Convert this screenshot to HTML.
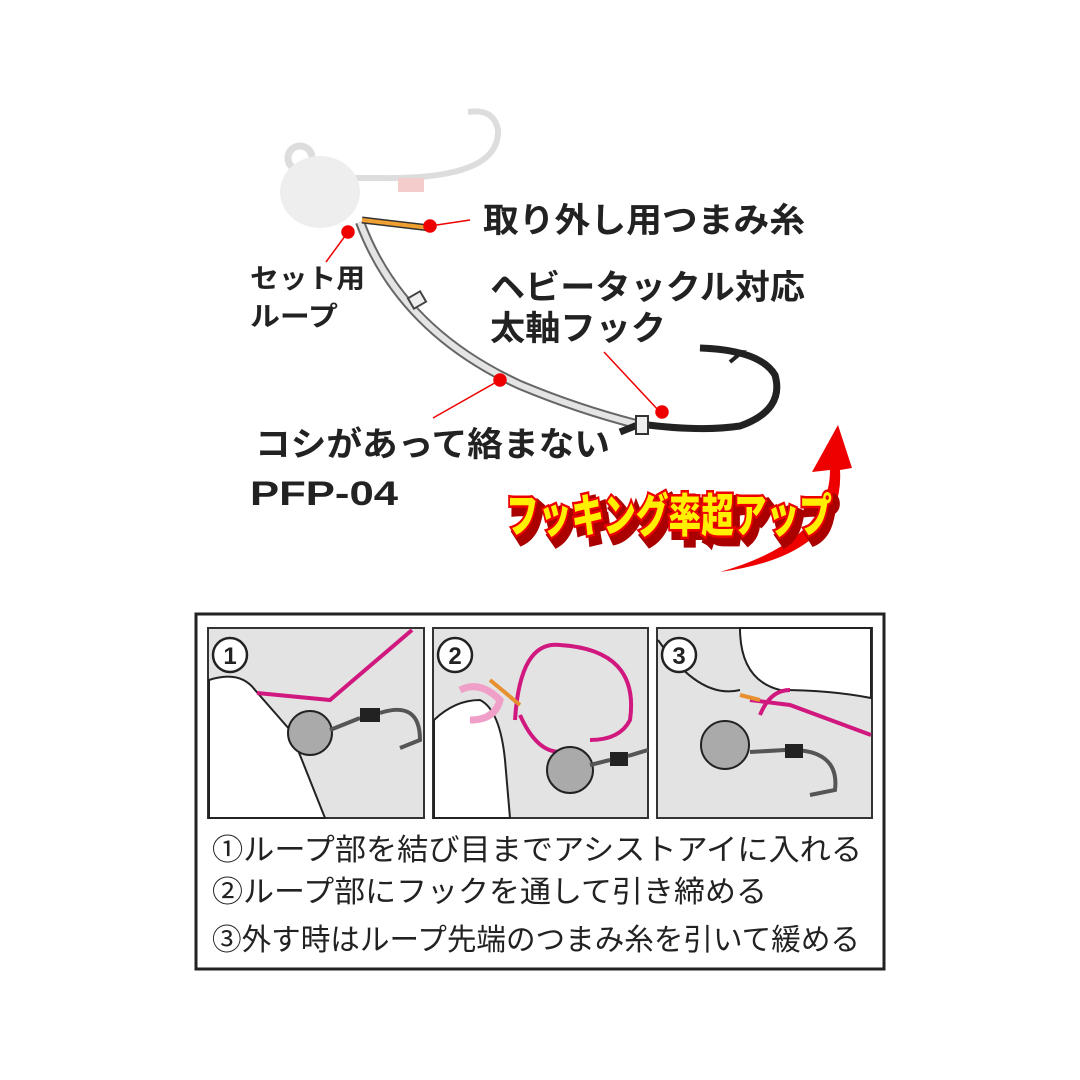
<!DOCTYPE html>
<html><head><meta charset="utf-8"><style>
body{margin:0;background:#fff;width:1080px;height:1080px;overflow:hidden}
svg{display:block}
.t{font-family:"Liberation Sans","Noto Sans CJK JP",sans-serif;font-weight:bold;fill:#222}
</style></head><body>
<svg width="1080" height="1080" viewBox="0 0 1080 1080">
<path d="M330 178 L380 178 Q500 180 498 130 Q494 108 468 112" fill="none" stroke="#ddd" stroke-width="6"/>
<rect x="398" y="178" width="26" height="14" fill="#f5cccc"/>
<circle cx="300" cy="158" r="12" fill="none" stroke="#ddd" stroke-width="7"/>
<ellipse cx="320" cy="192" rx="40" ry="36" fill="#eee"/>
<path d="M360 222 Q400 330 520 385 Q580 410 640 425" fill="none" stroke="#666" stroke-width="10"/>
<path d="M360 222 Q400 330 520 385 Q580 410 640 425" fill="none" stroke="#e4e4e4" stroke-width="6"/>
<path d="M362 220 L430 228" stroke="#333" stroke-width="7"/>
<path d="M362 220 L430 228" stroke="#f0a030" stroke-width="4"/>
<rect x="410" y="294" width="14" height="12" fill="#eee" stroke="#444" stroke-width="2" transform="rotate(-30 417 300)"/>
<path d="M620 432 L640 424 Q700 432 740 426 Q785 410 775 375 Q760 350 700 348" fill="none" stroke="#222" stroke-width="7"/>
<path d="M700 348 L742 352 L730 362" fill="none" stroke="#222" stroke-width="4"/>
<rect x="636" y="416" width="12" height="18" fill="#eee" stroke="#333" stroke-width="2"/>
<g stroke="#e00" stroke-width="1.5" fill="#e00">
<line x1="430" y1="226" x2="470" y2="220"/><circle cx="430" cy="226" r="6"/>
<line x1="348" y1="232" x2="326" y2="262"/><circle cx="348" cy="232" r="6"/>
<line x1="500" y1="380" x2="433" y2="418"/><circle cx="500" cy="380" r="6"/>
<line x1="660" y1="412" x2="604" y2="352"/><circle cx="662" cy="412" r="6"/>
</g>
<text class="t" x="483" y="232" font-size="34" textLength="322" lengthAdjust="spacingAndGlyphs">取り外し用つまみ糸</text>
<text class="t" x="250" y="288" font-size="27" textLength="115" lengthAdjust="spacingAndGlyphs">セット用</text>
<text class="t" x="250" y="326" font-size="27" textLength="88" lengthAdjust="spacingAndGlyphs">ループ</text>
<text class="t" x="490" y="299" font-size="34" textLength="315" lengthAdjust="spacingAndGlyphs">ヘビータックル対応</text>
<text class="t" x="490" y="340" font-size="34" textLength="176" lengthAdjust="spacingAndGlyphs">太軸フック</text>
<text class="t" x="255" y="456" font-size="34" textLength="355" lengthAdjust="spacingAndGlyphs">コシがあって絡まない</text>
<text class="t" x="250" y="505" font-size="34" textLength="148" lengthAdjust="spacingAndGlyphs">PFP-04</text>
<path d="M720 572 Q830 540 830 470 L812 472 L838 425 L852 468 L840 470 Q845 555 720 572Z" fill="#e00"/>
<text x="511" y="538" font-size="46" font-family="Liberation Sans,'Noto Sans CJK JP',sans-serif" font-weight="900" fill="#a00" stroke="#a00" stroke-width="10" textLength="326" lengthAdjust="spacingAndGlyphs">フッキング率超アップ</text>
<text x="506" y="532" font-size="46" font-family="Liberation Sans,'Noto Sans CJK JP',sans-serif" font-weight="900" fill="#ffef00" stroke="#e00" stroke-width="5" paint-order="stroke" textLength="326" lengthAdjust="spacingAndGlyphs">フッキング率超アップ</text>
<rect x="196" y="614" width="688" height="355" fill="#fff" stroke="#222" stroke-width="3"/>
<g stroke="#333" stroke-width="2" fill="#e3e3e3">
<rect x="208" y="628" width="216" height="190"/>
<rect x="433" y="628" width="215" height="190"/>
<rect x="657" y="628" width="215" height="190"/>
</g>
<path d="M209 680 Q240 670 255 690 L290 730 L325 818 L209 818Z" fill="#fff" stroke="#222" stroke-width="2"/>
<path d="M257 693 L330 700 L412 630" fill="none" stroke="#d0187f" stroke-width="4"/>
<circle cx="310" cy="733" r="22" fill="#aaa" stroke="#222" stroke-width="2"/>
<path d="M330 730 L360 718 M380 713 Q420 700 420 740 L400 748" fill="none" stroke="#555" stroke-width="4"/>
<rect x="360" y="708" width="20" height="14" fill="#222"/>
<path d="M434 720 Q455 700 480 700 Q500 710 505 760 L510 818 L434 818Z" fill="#fff" stroke="#222" stroke-width="2"/>
<path d="M515 720 Q520 640 560 645 Q640 650 630 720 Q620 740 590 740 M520 715 Q540 760 570 750" fill="none" stroke="#d0187f" stroke-width="4"/>
<path d="M460 690 Q480 680 500 700 Q495 720 470 720" fill="none" stroke="#f0a0c8" stroke-width="7"/>
<path d="M490 680 L520 705" stroke="#e89030" stroke-width="4"/>
<circle cx="570" cy="770" r="23" fill="#aaa" stroke="#222" stroke-width="2"/>
<rect x="610" y="752" width="18" height="14" fill="#222"/>
<path d="M590 765 L610 760 M628 756 L648 750" stroke="#555" stroke-width="4"/>
<path d="M740 628 Q740 680 780 690 Q830 690 871 698 L871 628Z" fill="#fff" stroke="#222" stroke-width="2"/>
<path d="M658 640 Q700 700 740 690" fill="none" stroke="#222" stroke-width="2"/>
<path d="M750 700 L790 705 L871 735 M760 715 Q770 690 790 690" fill="none" stroke="#d0187f" stroke-width="4"/>
<path d="M740 695 L760 700" stroke="#e89030" stroke-width="4"/>
<circle cx="725" cy="745" r="24" fill="#aaa" stroke="#222" stroke-width="2"/>
<path d="M750 752 L785 750 Q840 748 835 790 L810 795" fill="none" stroke="#555" stroke-width="4"/>
<rect x="785" y="744" width="18" height="14" fill="#222"/>
<g fill="#fff" stroke="#222" stroke-width="2.5"><circle cx="230" cy="655" r="17"/><circle cx="455" cy="655" r="17"/><circle cx="679" cy="655" r="17"/></g>
<g class="t" font-size="24" text-anchor="middle"><text x="230" y="664">1</text><text x="455" y="664">2</text><text x="679" y="664">3</text></g>
<g class="t" font-size="30" style="font-weight:normal">
<text x="212" y="860" textLength="650" lengthAdjust="spacingAndGlyphs">①ループ部を結び目までアシストアイに入れる</text>
<text x="212" y="902" textLength="555" lengthAdjust="spacingAndGlyphs">②ループ部にフックを通して引き締める</text>
<text x="212" y="950" textLength="648" lengthAdjust="spacingAndGlyphs">③外す時はループ先端のつまみ糸を引いて緩める</text>
</g>
</svg>
</body></html>
